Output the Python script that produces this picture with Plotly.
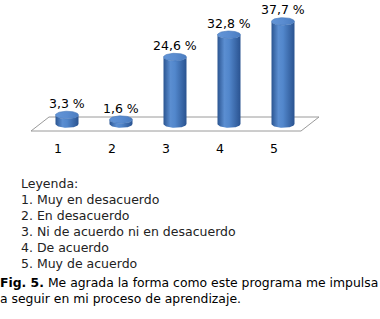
import numpy as np
import plotly.graph_objects as go

# ---- data ----
categories = ["1", "2", "3", "4", "5"]
values = [3.3, 1.6, 24.6, 32.8, 37.7]
value_labels = ["3,3 %", "1,6 %", "24,6 %", "32,8 %", "37,7 %"]
legend_title = "Leyenda:"
legend_items = ["1. Muy en desacuerdo", "2. En desacuerdo",
                "3. Ni de acuerdo ni en desacuerdo", "4. De acuerdo",
                "5. Muy de acuerdo"]
caption_bold = "Fig. 5."
caption_line1 = " Me agrada la forma como este programa me impulsa"
caption_line2 = "a seguir en mi proceso de aprendizaje."

# ---- layout geometry ----
W, H = 380, 319
FONT = "DejaVu Sans"
plot_h = 150                      # pixel height of chart area
px_per_unit = 54.0                # pixels per category
px_per_pct = 2.72                 # pixels per percent
x_first_px = 67.0                 # pixel centre of first category
base_px = 124.0                   # pixel row of value 0
x_range = [-x_first_px / px_per_unit, (W - x_first_px) / px_per_unit]
y_range = [-(plot_h - base_px) / px_per_pct, base_px / px_per_pct]

rx = 11.5 / px_per_unit           # cylinder radius (x units)
ry = 3.8 / px_per_pct             # ellipse half-height (y units)
depth = 7.0 / px_per_pct          # floor half-depth (y units)
skew = 9.0 / px_per_unit          # floor skew (x units)

fig = go.Figure()

# floor parallelogram
n = len(categories)
fx = [-0.5 - skew, n - 0.5 - skew, n - 0.5 + skew, -0.5 + skew, -0.5 - skew]
fy = [-depth, -depth, depth, depth, -depth]
fig.add_trace(go.Scatter(x=fx, y=fy, mode="lines", fill="toself",
                         fillcolor="white", line=dict(color="#9a9a9a", width=1),
                         hoverinfo="skip", showlegend=False))

body_scale = [[0, "#2b5591"], [0.3, "#5b8ed1"], [0.5, "#5287cc"], [1, "#2a5390"]]
cap_scale = [[0, "#6294d6"], [0.5, "#5a8cd0"], [1, "#4a7cc0"]]

t_front = np.linspace(np.pi, 2 * np.pi, 40)
t_full = np.linspace(0, 2 * np.pi, 80)
for i, v in enumerate(values):
    cx = i
    xs = [cx - rx]
    ys = [0]
    xs += list(cx + rx * np.cos(t_front))
    ys += list(v + ry * np.sin(t_front))
    xs += list(cx + rx * np.cos(t_front[::-1]))
    ys += list(0 + ry * np.sin(t_front[::-1]))
    fig.add_trace(go.Scatter(x=xs, y=ys, mode="lines", fill="toself",
                             fillgradient=dict(type="horizontal", colorscale=body_scale),
                             line=dict(width=0), hoverinfo="skip", showlegend=False))
    fig.add_trace(go.Scatter(x=list(cx + rx * np.cos(t_full)),
                             y=list(v + ry * np.sin(t_full)),
                             mode="lines", fill="toself",
                             fillgradient=dict(type="horizontal", colorscale=cap_scale),
                             line=dict(width=0.6, color="#4677b8"),
                             hoverinfo="skip", showlegend=False))

annotations = []
for i, (v, lab) in enumerate(zip(values, value_labels)):
    annotations.append(dict(x=i, y=v, xref="x", yref="y", text=lab, showarrow=False,
                            yanchor="bottom", xanchor="center", yshift=2,
                            font=dict(family=FONT, size=12.5, color="black")))
for i, c in enumerate(categories):
    annotations.append(dict(x=i - skew, y=-depth, xref="x", yref="y", text=c,
                            showarrow=False, yanchor="top", xanchor="center", yshift=-8,
                            font=dict(family=FONT, size=12.5, color="black")))

legend_lines = [legend_title] + legend_items
for k, line in enumerate(legend_lines):
    annotations.append(dict(x=19 / W, y=1 - (183 + 16 * k) / H, xref="paper", yref="paper",
                            text=line, showarrow=False, xanchor="left", yanchor="middle",
                            font=dict(family=FONT, size=12.5, color="#222222")))
annotations.append(dict(x=-1 / W, y=1 - 290 / H, xref="paper", yref="paper",
                        text="<b>" + caption_bold + "</b>" + caption_line1 + "<br>" + caption_line2,
                        showarrow=False, xanchor="left", yanchor="middle", align="left",
                        borderpad=0,
                        font=dict(family=FONT, size=12.4, color="black")))

fig.update_layout(
    width=W, height=H, margin=dict(l=0, r=0, t=0, b=0),
    paper_bgcolor="white", plot_bgcolor="white",
    xaxis=dict(range=x_range, domain=[0, 1], visible=False, fixedrange=True),
    yaxis=dict(range=y_range, domain=[1 - plot_h / H, 1], visible=False, fixedrange=True),
    annotations=annotations, showlegend=False, hovermode=False,
)

fig.write_html("out.html", config={"displayModeBar": False, "staticPlot": True})
